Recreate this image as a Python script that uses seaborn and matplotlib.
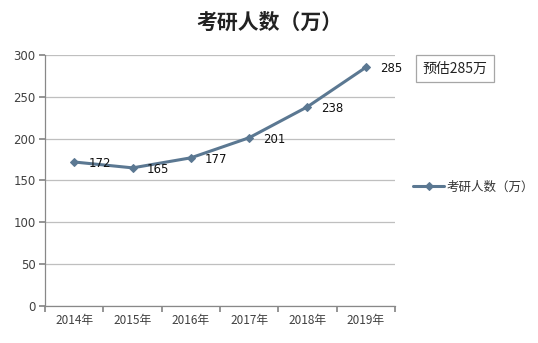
import matplotlib
matplotlib.use("Agg")
import matplotlib.pyplot as plt
import seaborn as sns
import pandas as pd
import numpy as np

years = ["2014年", "2015年", "2016年", "2017年", "2018年", "2019年"]
values = [172, 165, 177, 201, 238, 285]
series_name = "考研人数（万）"
title = "考研人数（万）"
note = "预估285万"
yticks = [0, 50, 100, 150, 200, 250, 300]

sns.set_theme(style="white")
plt.rcParams['font.family'] = ['Noto Sans CJK SC', 'DejaVu Sans']

df = pd.DataFrame({"x": np.arange(len(years)), "v": values, "s": series_name})

fig = plt.figure(figsize=(5.38, 3.43), dpi=100)
ax = fig.add_axes([0.084, 0.108, 0.65, 0.732])

line_color = "#5b7892"
sns.lineplot(data=df, x="x", y="v", hue="s", palette=[line_color], marker="D",
             markersize=4.5, linewidth=2.2, markeredgecolor=line_color, ax=ax)

for xi, v in zip(df["x"], df["v"]):
    ax.annotate(str(v), (xi, v), xytext=(10, -1), textcoords="offset points",
                ha="left", va="center", fontsize=8.5, color="#111111",
                family=["DejaVu Sans"])

ax.set_xlim(-0.5, len(years) - 0.5)
ax.set_ylim(0, 300)
ax.set_yticks(yticks)
ax.set_yticklabels([str(t) for t in yticks], fontsize=8.5, color="#404040",
                   family=["DejaVu Sans"])
ax.set_xticks(np.arange(-0.5, len(years), 1.0))
ax.set_xticklabels([""] * (len(years) + 1))
ax.set_xticks(np.arange(len(years)), minor=True)
ax.set_xticklabels(years, minor=True, fontsize=8.5, color="#404040")
ax.tick_params(axis="x", which="major", length=4, color="#888888", direction="out", bottom=True)
ax.tick_params(axis="x", which="minor", length=0, pad=6)
ax.tick_params(axis="y", length=4, color="#888888", direction="out", left=True, pad=3)

ax.grid(axis="y", color="#bfbfbf", linewidth=0.9)
ax.set_axisbelow(True)
for s in ["top", "right"]:
    ax.spines[s].set_visible(False)
for s in ["left", "bottom"]:
    ax.spines[s].set_color("#888888")
    ax.spines[s].set_linewidth(0.9)
ax.set_xlabel("")
ax.set_ylabel("")

leg = ax.legend(loc="center left", bbox_to_anchor=(1.02, 0.474), frameon=False,
                fontsize=9, handlelength=2.5, handletextpad=0.2)
for t in leg.get_texts():
    t.set_color("#333333")

fig.text(0.50, 0.935, title, ha="center", va="center", fontsize=15,
         fontweight="bold", color="#222222")

fig.text(0.846, 0.80, note, ha="center", va="center", fontsize=10, color="#222222",
         bbox=dict(boxstyle="square,pad=0.45", facecolor="white", edgecolor="#a6a6a6",
                   linewidth=0.9))

fig.savefig("out.png", dpi=100)
